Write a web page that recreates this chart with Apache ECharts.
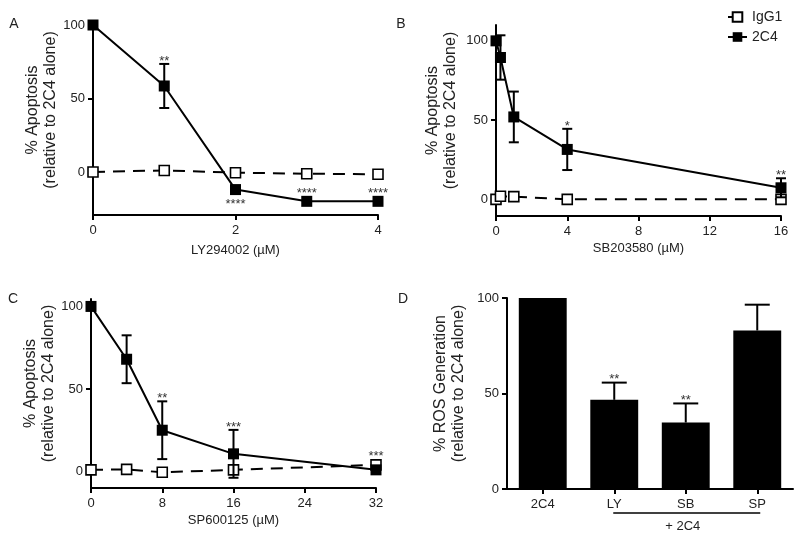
<!DOCTYPE html>
<html>
<head>
<meta charset="utf-8">
<script src="https://cdn.jsdelivr.net/npm/echarts@6/dist/echarts.min.js"></script>
<style>html,body{margin:0;padding:0;background:#fff;}#c{width:800px;height:538px;}</style>
</head>
<body>
<div id="c"></div>
<script>
// ---------- Panel A: LY294002 ----------
const aX = [0, 1, 2, 3, 4];
const a2C4 = [100, 58.5, -12, -20, -20];
const a2C4Err = [0, 15, 0, 0, 0];
const aIgG1 = [0, 1, -0.5, -1.2, -1.6];
const aSig = ['', '**', '****', '****', '****'];
const aSigPos = [0, 1, -1, 1, 1];
// ---------- Panel B: SB203580 ----------
const bX = [0, 0.25, 1, 4, 16];
const b2C4 = [100, 89.5, 52, 31.5, 7.3];
const b2C4Err = [0, 14, 16, 13, 6];
const bIgG1 = [0, 2, 1.7, 0, 0];
const bSig = ['', '', '', '*', '**'];
const bSigPos = [0, 0, 0, 1, 1];
// ---------- Panel C: SP600125 ----------
const cX = [0, 4, 8, 16, 32];
const c2C4 = [100, 68, 25, 10.7, 1];
const c2C4Err = [0, 14.5, 17.5, 14.5, 0];
const cIgG1 = [1, 1.3, -0.5, 1, 4];
const cSig = ['', '', '**', '***', '***'];
const cSigPos = [0, 0, 1, 1, 1];
// ---------- Panel D: ROS ----------
const dCats = ['2C4', 'LY', 'SB', 'SP'];
const dVals = [100, 46.7, 34.8, 83];
const dErr = [0, 9, 10, 13.5];
const dSig = ['', '**', '**', ''];
const dGroupLabel = '+ 2C4';
const dGroupFrom = 'LY', dGroupTo = 'SP';
// ---------- Text ----------
const panelLetters = ['A', 'B', 'C', 'D'];
const xNames = ['LY294002 (µM)', 'SB203580 (µM)', 'SP600125 (µM)', ''];
const yNameApop = '% Apoptosis\n(relative to 2C4 alone)';
const yNameRos = '% ROS Generation\n(relative to 2C4 alone)';
const yTicks = [0, 50, 100];
const seriesNames = ['IgG1', '2C4'];

const FONT = "'Liberation Sans', Arial, Helvetica, sans-serif";
const TXT = '#222';

const grids = [
  {left: 93, top: 25, width: 285, height: 190},
  {left: 496, top: 25, width: 285, height: 191},
  {left: 91, top: 299, width: 285, height: 189},
  {left: 507, top: 298, width: 286, height: 191}
];
const xRanges = [[0, 4, 2], [0, 16, 4], [0, 32, 8]];
const yRanges = [[-29.3, 100], [-10.5, 110], [-10, 104.5], [0, 100]];
const yNameGaps = [33, 36, 31, 39];
const xNameGaps = [29, 26, 26, 0];

const axisLine = {show: true, lineStyle: {color: '#000', width: 2}};
const axisTick = {show: true, length: 5, lineStyle: {color: '#000', width: 2}};

const xAxis = [], yAxis = [];
for (let i = 0; i < 3; i++) {
  xAxis.push({
    type: 'value', gridIndex: i, min: xRanges[i][0], max: xRanges[i][1], interval: xRanges[i][2],
    axisLine: Object.assign({onZero: false}, axisLine), axisTick: axisTick, splitLine: {show: false},
    axisLabel: {color: TXT, fontSize: 13, fontFamily: FONT, margin: 9},
    name: xNames[i], nameLocation: 'middle', nameGap: xNameGaps[i],
    nameTextStyle: {color: TXT, fontSize: 13, fontFamily: FONT}
  });
}
xAxis.push({
  type: 'category', gridIndex: 3, data: dCats,
  axisLine: axisLine, axisTick: Object.assign({alignWithLabel: true}, axisTick),
  axisLabel: {color: TXT, fontSize: 13, fontFamily: FONT, margin: 9}
});
for (let i = 0; i < 4; i++) {
  yAxis.push({
    type: 'value', gridIndex: i, min: yRanges[i][0], max: yRanges[i][1],
    axisLine: Object.assign({onZero: false}, axisLine),
    axisTick: Object.assign({customValues: yTicks}, axisTick),
    splitLine: {show: false},
    axisLabel: {customValues: yTicks, color: TXT, fontSize: 13, fontFamily: FONT, margin: 8},
    name: i === 3 ? yNameRos : yNameApop, nameLocation: 'middle', nameGap: yNameGaps[i],
    nameTextStyle: {color: TXT, fontSize: 16, fontFamily: FONT, lineHeight: 18, padding: [0, 0, 0, 20]}
  });
}

function zip(xs, ys) { return xs.map((x, k) => [x, ys[k]]); }

function errRender(capHalf, both) {
  return function (params, api) {
    const x = api.value(0), m = api.value(1), e = api.value(2);
    if (!e) return null;
    const top = api.coord([x, m + e]);
    const bot = api.coord([x, both ? m - e : m]);
    const st = {stroke: '#000', lineWidth: 2};
    const ch = [
      {type: 'line', shape: {x1: top[0], y1: top[1], x2: bot[0], y2: bot[1]}, style: st},
      {type: 'line', shape: {x1: top[0] - capHalf, y1: top[1], x2: top[0] + capHalf, y2: top[1]}, style: st}
    ];
    if (both) ch.push({type: 'line', shape: {x1: bot[0] - capHalf, y1: bot[1], x2: bot[0] + capHalf, y2: bot[1]}, style: st});
    return {type: 'group', children: ch};
  };
}

function sigRender(labels, half, aboveGap, belowGap) {
  return function (params, api) {
    const t = labels[params.dataIndex];
    if (!t) return null;
    const x = api.value(0), m = api.value(1), e = api.value(2), ig = api.value(3), pos = api.value(4);
    let y;
    if (pos >= 0) {
      let anchor = e ? api.coord([x, m + e])[1] : api.coord([x, m])[1] - half;
      if (!isNaN(ig)) {
        const py = api.coord([x, ig])[1], pm = api.coord([x, m])[1];
        if (Math.abs(py - pm) < 2 * half) anchor = Math.min(anchor, py - half);
      }
      y = anchor - aboveGap;
    } else {
      const anchor = e ? api.coord([x, m - e])[1] : api.coord([x, m])[1] + half;
      y = anchor + belowGap;
    }
    const p = api.coord([x, m]);
    return {type: 'text', x: p[0], y: y,
      style: {text: t, fill: '#333', fontSize: 13, fontFamily: FONT, align: 'center', verticalAlign: 'middle'}};
  };
}

const series = [];
const panels = [
  [aX, a2C4, a2C4Err, aIgG1, aSig, aSigPos],
  [bX, b2C4, b2C4Err, bIgG1, bSig, bSigPos],
  [cX, c2C4, c2C4Err, cIgG1, cSig, cSigPos]
];
panels.forEach((p, i) => {
  const [xs, ys, es, igs, sig, sigPos] = p;
  series.push({
    name: seriesNames[0], type: 'line', xAxisIndex: i, yAxisIndex: i, data: zip(xs, igs),
    symbol: 'rect', symbolSize: 10, z: 2,
    itemStyle: {color: '#fff', borderColor: '#000', borderWidth: 1.6},
    lineStyle: {color: '#000', width: 2, type: [12, 8]}
  });
  series.push({
    type: 'custom', xAxisIndex: i, yAxisIndex: i, z: 3,
    data: xs.map((x, k) => [x, ys[k], es[k]]),
    renderItem: errRender(5, true)
  });
  series.push({
    name: seriesNames[1], type: 'line', xAxisIndex: i, yAxisIndex: i, data: zip(xs, ys),
    symbol: 'rect', symbolSize: 11, z: 4,
    itemStyle: {color: '#000'},
    lineStyle: {color: '#000', width: 2}
  });
  series.push({
    type: 'custom', xAxisIndex: i, yAxisIndex: i, z: 5,
    data: xs.map((x, k) => [x, ys[k], es[k], igs[k], sigPos[k]]),
    renderItem: sigRender(sig, 5.5, 2.5, 9.7)
  });
});
// Panel D
series.push({
  type: 'bar', xAxisIndex: 3, yAxisIndex: 3, data: dVals, barWidth: '67%',
  itemStyle: {color: '#000'}, z: 2
});
series.push({
  type: 'custom', xAxisIndex: 3, yAxisIndex: 3, z: 3,
  data: dVals.map((v, k) => [k, v, dErr[k]]),
  renderItem: errRender(12.5, false)
});
series.push({
  type: 'custom', xAxisIndex: 3, yAxisIndex: 3, z: 5,
  data: dVals.map((v, k) => [k, v, dErr[k], NaN, 1]),
  renderItem: sigRender(dSig, 0, 3, 0)
});
series.push({
  type: 'custom', xAxisIndex: 3, yAxisIndex: 3, z: 5, clip: false,
  data: [[dCats.indexOf(dGroupFrom), dCats.indexOf(dGroupTo)]],
  renderItem: function (params, api) {
    const a = api.coord([api.value(0), 0]);
    const b = api.coord([api.value(1), 0]);
    return {type: 'group', children: [
      {type: 'line', shape: {x1: a[0] - 1, y1: a[1] + 24, x2: b[0] + 3, y2: b[1] + 24}, style: {stroke: '#000', lineWidth: 1.5}},
      {type: 'text', x: (a[0] + b[0]) / 2 - 3, y: a[1] + 37,
        style: {text: dGroupLabel, fill: TXT, fontSize: 13, fontFamily: FONT, align: 'center', verticalAlign: 'middle'}}
    ]};
  }
});

const letterPos = [[14, 24], [401, 24], [13, 299], [403, 299]];
const graphic = panelLetters.map((L, k) => ({
  type: 'text', x: letterPos[k][0], y: letterPos[k][1],
  style: {text: L, fill: TXT, fontSize: 14, fontFamily: FONT, align: 'center', verticalAlign: 'middle'}
}));

const chart = echarts.init(document.getElementById('c'), null, {renderer: 'canvas'});
chart.setOption({
  animation: false,
  backgroundColor: '#fff',
  textStyle: {fontFamily: FONT},
  grid: grids,
  xAxis: xAxis,
  yAxis: yAxis,
  legend: {
    data: seriesNames, orient: 'vertical', left: 722, top: 5, itemGap: 6,
    itemWidth: 19, itemHeight: 12, selectedMode: false,
    textStyle: {color: TXT, fontSize: 14, fontFamily: FONT}
  },
  graphic: graphic,
  series: series
});
</script>
</body>
</html>
